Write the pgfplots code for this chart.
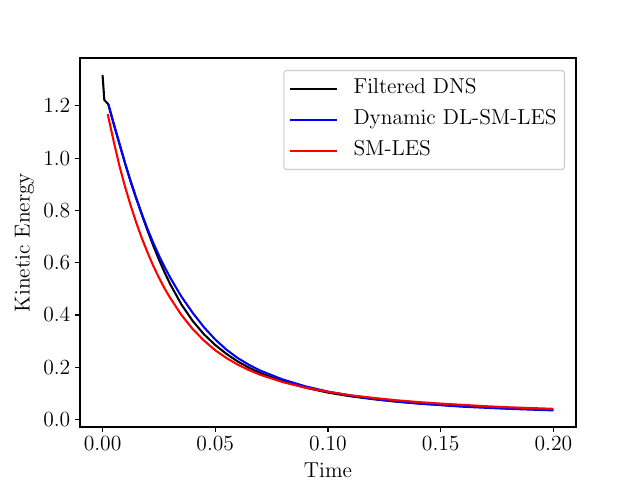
\RequirePackage{fix-cm}
\documentclass[border=0pt]{standalone}
\usepackage{pgfplots}
\pgfplotsset{compat=1.18}
\def\fs{\fontencoding{OT1}\fontfamily{cmr}\fontsize{15.6}{18}\selectfont}
\begin{document}
\begin{tikzpicture}
\begin{axis}[
  name=ax,
  scale only axis,
  width=4.96in, height=3.69in,
  xmin=-0.01, xmax=0.21,
  ymin=-0.0285, ymax=1.383,
  xtick={0,0.05,0.1,0.15,0.2},
  ytick={0,0.2,0.4,0.6,0.8,1.0,1.2},
  xticklabel style={/pgf/number format/.cd,fixed,fixed zerofill,precision=2},
  yticklabel style={/pgf/number format/.cd,fixed,fixed zerofill,precision=1},
  tick label style={font=\fs},
  label style={font=\fs},
  xlabel={Time},
  ylabel={Kinetic Energy},
  xlabel style={yshift=-2pt},
  tick align=outside,
  tick pos=left,
  major tick length=3.5pt,
  every tick/.style={black,line width=0.8pt},
  axis line style={line width=0.8pt},
  legend style={font=\fs, at={(0.978,0.9675)}, anchor=north east,
    draw=black!20, rounded corners=2pt, line width=0.8pt,
    inner xsep=4pt, inner ysep=4.3pt, row sep=4pt,
    nodes={text height=10.8pt, text depth=4.5pt, inner sep=1.5pt}},
  legend cell align=left,
  legend image code/.code={\draw[#1, line width=1.5pt] (0cm,0cm) -- (0.47in,0cm); \path (0.60in,0cm);},
  every axis plot/.append style={line width=1.5pt},
]
\addplot[black] coordinates {
(0.0000,1.318) (0.0008,1.222) (0.0025,1.207) (0.0050,1.130) (0.0075,1.055)
(0.0100,0.980) (0.0125,0.910) (0.0150,0.845) (0.0175,0.782) (0.0200,0.722)
(0.0225,0.665) (0.0250,0.612) (0.0275,0.563) (0.0300,0.518) (0.0350,0.440)
(0.0400,0.377) (0.0450,0.326) (0.0500,0.285) (0.0550,0.251) (0.0600,0.222)
(0.0650,0.198) (0.0700,0.178) (0.0800,0.146) (0.0900,0.122) (0.1000,0.103)
(0.1100,0.089) (0.1200,0.078) (0.1300,0.069) (0.1400,0.062) (0.1500,0.056)
(0.1600,0.051) (0.1700,0.047) (0.1800,0.043) (0.1900,0.040) (0.2000,0.037)
};
\addlegendentry{Filtered DNS}
\addplot[blue] coordinates {
(0.0026,1.206) (0.0050,1.130) (0.0075,1.055) (0.0100,0.980) (0.0125,0.910)
(0.0150,0.845) (0.0175,0.785) (0.0200,0.728) (0.0225,0.676) (0.0250,0.628)
(0.0275,0.584) (0.0300,0.543) (0.0350,0.470) (0.0400,0.408) (0.0450,0.353)
(0.0500,0.306) (0.0550,0.267) (0.0600,0.235) (0.0650,0.209) (0.0700,0.187)
(0.0800,0.153) (0.0900,0.127) (0.1000,0.107) (0.1100,0.092) (0.1200,0.079)
(0.1300,0.069) (0.1400,0.061) (0.1500,0.055) (0.1600,0.049) (0.1700,0.045)
(0.1800,0.041) (0.1900,0.038) (0.2000,0.035)
};
\addlegendentry{Dynamic DL-SM-LES}
\addplot[red] coordinates {
(0.0023,1.168) (0.0050,1.062) (0.0075,0.970) (0.0100,0.890) (0.0125,0.818)
(0.0150,0.752) (0.0175,0.692) (0.0200,0.638) (0.0225,0.588) (0.0250,0.543)
(0.0275,0.502) (0.0300,0.465) (0.0350,0.400) (0.0400,0.346) (0.0450,0.302)
(0.0500,0.265) (0.0550,0.235) (0.0600,0.210) (0.0650,0.189) (0.0700,0.171)
(0.0800,0.143) (0.0900,0.122) (0.1000,0.106) (0.1100,0.093) (0.1200,0.083)
(0.1300,0.074) (0.1400,0.067) (0.1500,0.061) (0.1600,0.056) (0.1700,0.051)
(0.1800,0.047) (0.1900,0.044) (0.2000,0.041)
};
\addlegendentry{SM-LES}
\end{axis}
\pgfresetboundingbox
\path ([shift={(-0.80in,-0.53in)}]ax.south west) rectangle ([shift={(0.64in,0.58in)}]ax.north east);
\end{tikzpicture}
\end{document}
